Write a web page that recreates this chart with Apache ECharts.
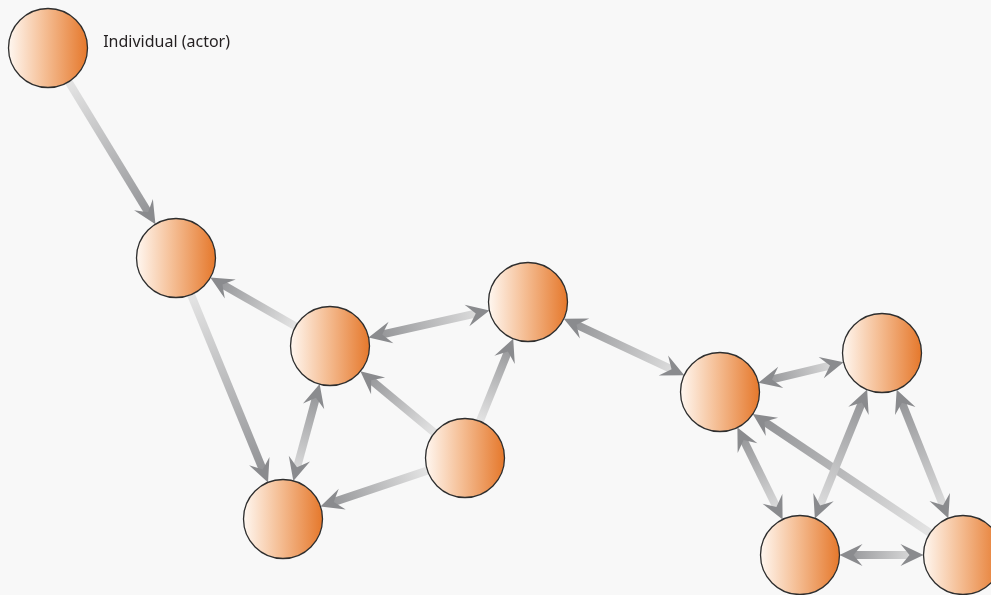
<!DOCTYPE html>
<html>
<head>
<meta charset="utf-8">
<script src="https://cdn.jsdelivr.net/npm/echarts@6/dist/echarts.min.js"></script>
<style>
html,body{margin:0;padding:0;background:#f8f8f8;}
#chart{width:991px;height:595px;}
</style>
</head>
<body>
<div id="chart"></div>
<script>
// ---- data ----
const nodeNames = ['actor', 'A', 'B', 'C', 'D', 'E', 'F', 'G', 'H', 'I'];
const nodeLabels = ['Individual (actor)', '', '', '', '', '', '', '', '', ''];
const nodeX = [48, 176, 330, 528, 465, 283, 720, 882, 800, 963];
const nodeY = [48, 258, 346, 302, 458, 519, 392, 353, 555, 555];
// edges: light end = from, dark end (arrow) = to; bidirectional edges also have an arrow at "from"
const edgeFrom = ['actor', 'B', 'A', 'D', 'D', 'D', 'I', 'C', 'E', 'F', 'G', 'H', 'H', 'I', 'I'];
const edgeTo   = ['A',     'A', 'E', 'B', 'C', 'E', 'F', 'B', 'B', 'C', 'F', 'F', 'G', 'G', 'H'];
const edgeBoth = [false, false, false, false, false, false, false, true, true, true, true, true, true, true, true];

const R = 39.5;        // node radius (px)
const LINE_W = 8;
const AH_LEN = 23, AH_HALF = 11, AH_NOTCH = 14;
const LIGHT = '#e4e4e4', DARK = '#8d8e91', ARROW = '#8a8b8e';

const chart = echarts.init(document.getElementById('chart'));

const edgeData = edgeFrom.map((f, i) => [nodeNames.indexOf(f), nodeNames.indexOf(edgeTo[i]), edgeBoth[i] ? 1 : 0]);

function arrow(tx, ty, ux, uy) {
  const nx = -uy, ny = ux;
  const bx = tx - ux * AH_LEN, by = ty - uy * AH_LEN;
  return {
    type: 'polygon',
    shape: { points: [
      [tx, ty],
      [bx + nx * AH_HALF, by + ny * AH_HALF],
      [tx - ux * AH_NOTCH, ty - uy * AH_NOTCH],
      [bx - nx * AH_HALF, by - ny * AH_HALF]
    ] },
    style: { fill: ARROW }
  };
}

function renderEdge(params, api) {
  const f = api.value(0), t = api.value(1), both = api.value(2) === 1;
  const p0 = api.coord([nodeX[f], nodeY[f]]);
  const p1 = api.coord([nodeX[t], nodeY[t]]);
  const dx = p1[0] - p0[0], dy = p1[1] - p0[1];
  const len = Math.sqrt(dx * dx + dy * dy);
  const ux = dx / len, uy = dy / len;
  const sx = p0[0] + ux * R, sy = p0[1] + uy * R;
  const ex = p1[0] - ux * R, ey = p1[1] - uy * R;
  const ls = both ? AH_NOTCH - 2 : -2;
  const le = AH_NOTCH - 2;
  const children = [{
    type: 'line',
    shape: { x1: sx + ux * ls, y1: sy + uy * ls, x2: ex - ux * le, y2: ey - uy * le },
    style: {
      lineWidth: LINE_W,
      stroke: { type: 'linear', x: sx, y: sy, x2: ex, y2: ey, global: true,
        colorStops: [{ offset: 0, color: LIGHT }, { offset: 1, color: DARK }] }
    }
  }];
  children.push(arrow(ex, ey, ux, uy));
  if (both) children.push(arrow(sx, sy, -ux, -uy));
  return { type: 'group', children: children };
}

const nodeData = nodeNames.map((n, i) => ({
  name: n,
  value: [nodeX[i], nodeY[i]],
  label: { show: nodeLabels[i] !== '', formatter: nodeLabels[i] }
}));

chart.setOption({
  backgroundColor: '#f8f8f8',
  animation: false,
  grid: { left: 0, right: 0, top: 0, bottom: 0 },
  xAxis: { type: 'value', min: 0, max: 991, show: false },
  yAxis: { type: 'value', min: 0, max: 595, inverse: true, show: false },
  series: [
    {
      type: 'custom',
      coordinateSystem: 'cartesian2d',
      renderItem: renderEdge,
      data: edgeData,
      z: 1,
      silent: true
    },
    {
      type: 'scatter',
      symbol: 'circle',
      symbolSize: R * 2,
      z: 2,
      clip: false,
      itemStyle: {
        opacity: 1,
        borderColor: '#2e2e2e',
        borderWidth: 1.3,
        color: { type: 'linear', x: 0, y: 0, x2: 1, y2: 0,
          colorStops: [
            { offset: 0, color: '#fff8f2' },
            { offset: 0.45, color: '#f5bf96' },
            { offset: 1, color: '#e5772a' }
          ] }
      },
      label: {
        position: 'right',
        distance: 15,
        offset: [0, -6],
        color: '#231f20',
        fontSize: 16,
        fontFamily: 'Noto Sans'
      },
      emphasis: { disabled: true },
      data: nodeData
    }
  ]
});
</script>
</body>
</html>
